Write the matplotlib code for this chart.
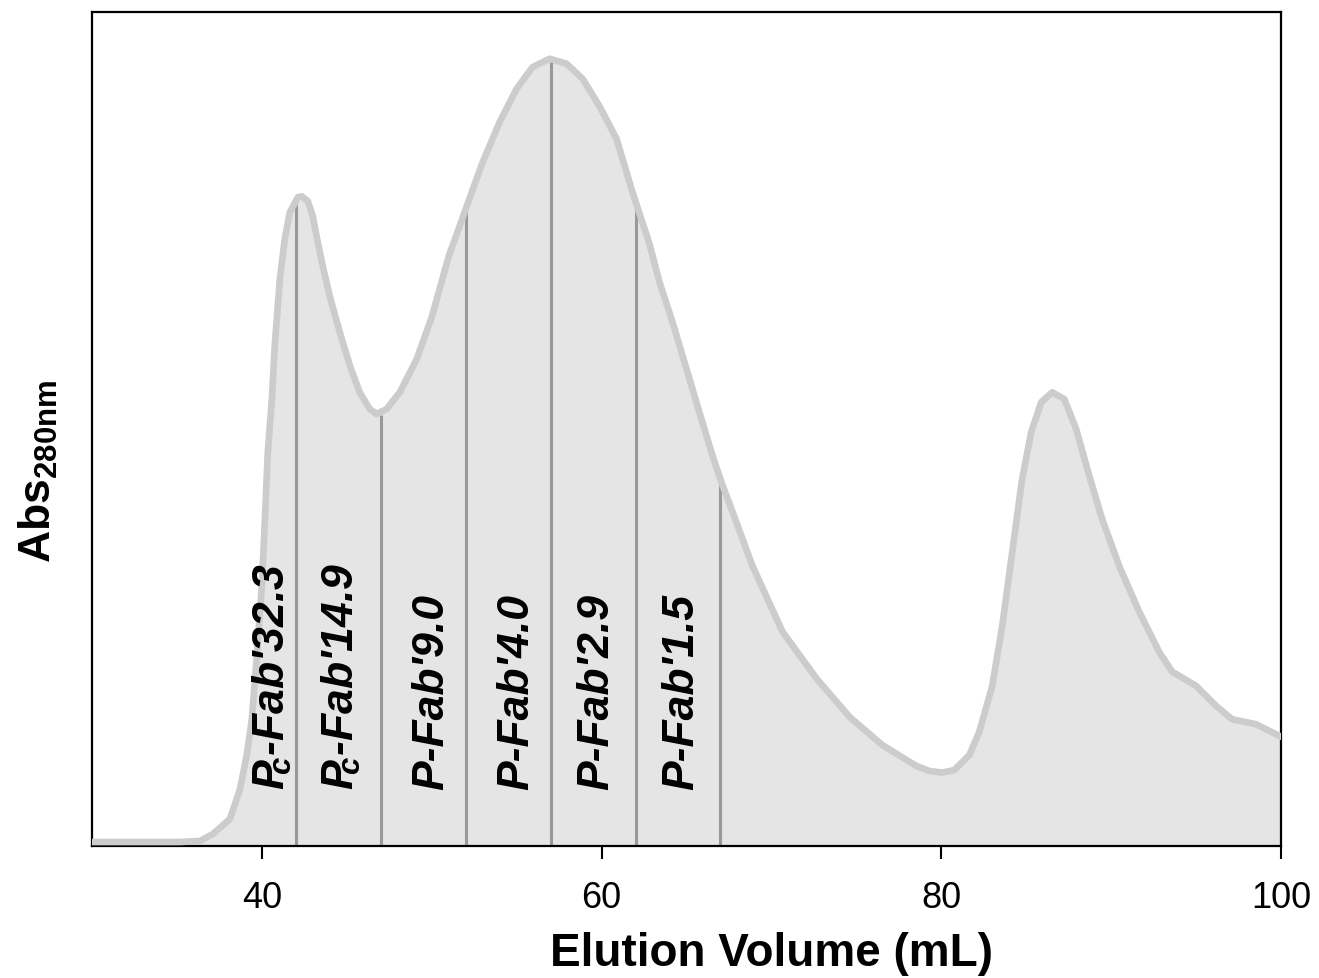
import numpy as np
import matplotlib
matplotlib.use('Agg')
import matplotlib.pyplot as plt

plt.rcParams['font.family'] = ['Liberation Sans', 'DejaVu Sans']
plt.rcParams['mathtext.fontset'] = 'custom'
plt.rcParams['mathtext.rm'] = 'Liberation Sans:bold'
plt.rcParams['mathtext.it'] = 'Liberation Sans:italic:bold'
plt.rcParams['mathtext.bf'] = 'Liberation Sans:bold'

# elution volume (mL) and relative absorbance
volume = [30.0, 35.18, 36.35, 37.12, 38.12, 38.71, 39.12, 39.41, 39.71, 40.0,
          40.18, 40.35, 40.59, 40.76, 41.06, 41.35, 41.65, 42.12, 42.35, 42.71,
          43.0, 43.29, 43.59, 44.0, 44.59, 45.18, 45.76, 46.35, 46.76, 47.35,
          48.12, 49.12, 50.0, 51.0, 52.06, 53.0, 54.0, 55.0, 55.94, 56.94,
          57.94, 58.88, 59.88, 60.88, 61.82, 62.82, 63.41, 64.18, 65.0, 65.76,
          66.53, 67.06, 67.94, 68.88, 70.65, 72.65, 74.59, 76.53, 78.53, 79.29,
          80.06, 80.76, 81.06, 81.65, 82.24, 83.0, 83.59, 84.18, 84.76, 85.29,
          85.88, 86.53, 87.24, 87.94, 88.71, 89.47, 90.47, 91.65, 92.82, 93.59,
          95.0, 96.18, 97.12, 98.53, 100.0]
absorbance = [0.0048, 0.0048, 0.006, 0.0144, 0.0324, 0.068, 0.110, 0.152, 0.230, 0.312,
              0.392, 0.472, 0.536, 0.600, 0.680, 0.728, 0.760, 0.778, 0.779, 0.773,
              0.755, 0.724, 0.695, 0.659, 0.616, 0.576, 0.544, 0.524, 0.518, 0.524,
              0.544, 0.584, 0.634, 0.707, 0.767, 0.820, 0.868, 0.908, 0.934, 0.944,
              0.938, 0.920, 0.887, 0.848, 0.784, 0.722, 0.676, 0.628, 0.572, 0.520,
              0.468, 0.436, 0.388, 0.336, 0.257, 0.201, 0.155, 0.121, 0.096, 0.090,
              0.088, 0.091, 0.097, 0.109, 0.137, 0.192, 0.264, 0.353, 0.440, 0.496,
              0.532, 0.544, 0.536, 0.500, 0.444, 0.392, 0.336, 0.281, 0.233, 0.209,
              0.192, 0.168, 0.152, 0.146, 0.131]

# fraction cut positions (mL) and labels
cuts = [42, 47, 52, 57, 62, 67]
label_x = [40.6, 44.7, 50.0, 55.0, 59.7, 64.7]
labels = [r"$P_{\!\!\!c}$-Fab'32.3", r"$P_{\!\!\!c}$-Fab'14.9", "P-Fab'9.0",
          "P-Fab'4.0", "P-Fab'2.9", "P-Fab'1.5"]
xticks = [40, 60, 80, 100]

fig = plt.figure(figsize=(13.19, 9.79), dpi=100)
ax = fig.add_axes([92/1319, 1 - 847/979, 1189/1319, 834/979])

x = np.array(volume)
y = np.array(absorbance)
ax.fill_between(x, 0, y, color='#e5e5e5', lw=0, zorder=1)
ax.plot(x, y, color='#cccccc', lw=4.8, solid_joinstyle='round',
        solid_capstyle='round', zorder=3)

tops = np.interp(cuts, x, y)
ax.vlines(cuts, 0, tops - 0.004, color='#999999', lw=2.2, zorder=2)

for lx, lab in zip(label_x, labels):
    ax.text(lx, 0.068, lab, rotation=90, ha='center', va='bottom',
            fontsize=32, fontstyle='italic', fontweight='bold', zorder=4)

ax.set_xlim(30, 100)
ax.set_ylim(0, 1)
ax.set_xticks(xticks)
ax.set_xticklabels([str(t) for t in xticks], fontsize=26)
ax.tick_params(axis='x', length=9.5, width=1.5, pad=15, direction='out')
ax.set_yticks([])
for s in ax.spines.values():
    s.set_linewidth(1.6)

ax.set_xlabel('Elution Volume (mL)', fontsize=33, fontweight='bold')
ax.xaxis.set_label_coords(40/70, -0.102)
ax.set_ylabel(r'Abs$_{\mathregular{280nm}}$', fontsize=32, fontweight='bold')
ax.yaxis.set_label_coords(-0.027, 0.45)

fig.savefig('out.png', dpi=100)
